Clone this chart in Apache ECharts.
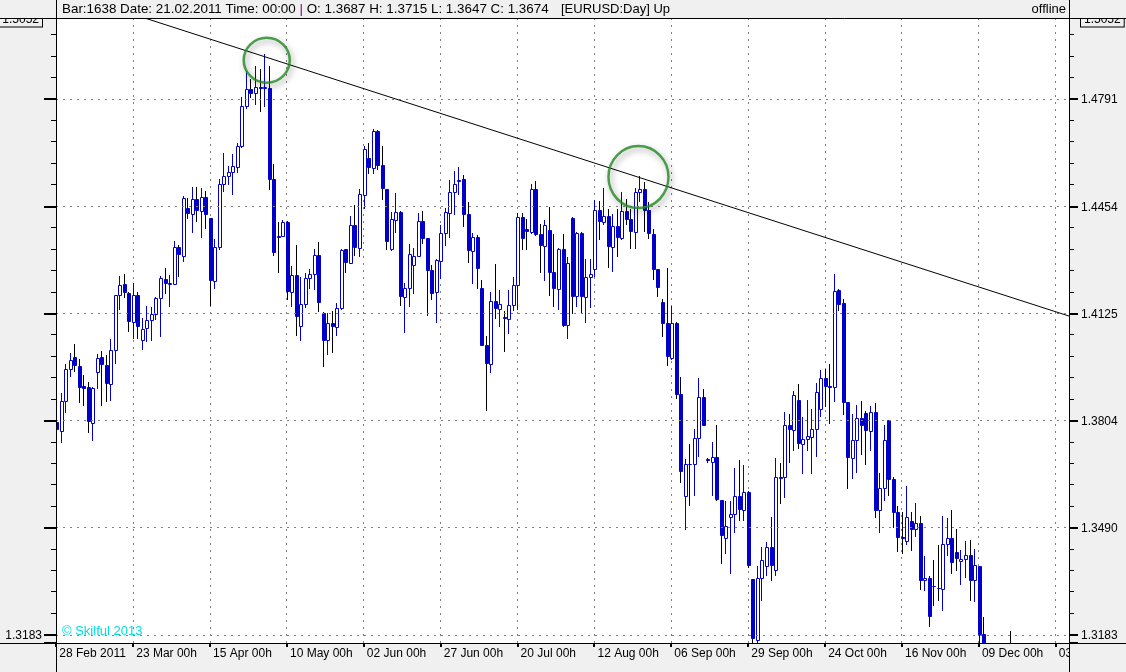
<!DOCTYPE html>
<html><head><meta charset="utf-8">
<script src="https://cdn.jsdelivr.net/npm/echarts@6/dist/echarts.min.js"></script>
<style>html,body{margin:0;padding:0;background:#f0f0f0;}#chart{width:1126px;height:672px;}</style>
</head><body><div id="chart"></div>
<script>
// ---- data (EURUSD daily) ----
const barCount = 225;               // bar slots shown on the time axis (weekdays from 28 Feb 2011)
const xTickLabels = ['28 Feb 2011','23 Mar 00h','15 Apr 00h','10 May 00h','02 Jun 00h','27 Jun 00h','20 Jul 00h','12 Aug 00h','06 Sep 00h','29 Sep 00h','24 Oct 00h','16 Nov 00h','09 Dec 00h','03 Jan 00h'];
const yTickLabels = ['1.3183','1.3490','1.3804','1.4125','1.4454','1.4791'];
const yTopLabel = '1.5052';
const yMin = 1.3160, yMax = 1.5052;

const open = [1.3800,1.3773,1.3863,1.3959,1.3995,1.3968,1.3906,1.3905,1.3796,1.3949,1.3995,1.3971,1.3914,1.4016,1.4181,1.4215,1.4189,1.4100,1.4181,1.4045,1.4081,1.4107,1.4124,1.4174,1.4232,1.4217,1.4217,1.4330,1.4301,1.4451,1.4432,1.4479,1.4440,1.4485,1.4418,1.4226,1.4330,1.4524,1.4550,1.4561,1.4579,1.4644,1.4771,1.4824,1.4810,1.4829,1.4826,1.4826,1.4539,1.4363,1.4363,1.4407,1.4192,1.4244,1.4088,1.4155,1.4235,1.4247,1.4306,1.4126,1.4045,1.4098,1.4086,1.4143,1.4322,1.4281,1.4396,1.4327,1.4489,1.4607,1.4576,1.4691,1.4583,1.4510,1.4324,1.4412,1.4437,1.4177,1.4204,1.4274,1.4301,1.4409,1.4356,1.4257,1.4191,1.4286,1.4371,1.4435,1.4501,1.4534,1.4539,1.4431,1.4318,1.4361,1.4204,1.4029,1.3974,1.4165,1.4139,1.4116,1.4110,1.4152,1.4213,1.4423,1.4386,1.4375,1.4510,1.4368,1.4332,1.4381,1.4252,1.4201,1.4322,1.4090,1.4420,1.4178,1.4373,1.4177,1.4238,1.4262,1.4442,1.4407,1.4425,1.4330,1.4394,1.4358,1.4440,1.4415,1.4376,1.4498,1.4510,1.4442,1.4368,1.4260,1.4160,1.4098,1.3992,1.4098,1.3882,1.3581,1.3677,1.3677,1.3753,1.3875,1.3690,1.3681,1.3696,1.3572,1.3460,1.3521,1.3530,1.3583,1.3542,1.3593,1.3342,1.3169,1.3345,1.3380,1.3434,1.3369,1.3638,1.3638,1.3790,1.3776,1.3867,1.3735,1.3750,1.3756,1.3780,1.3839,1.3930,1.3906,1.3905,1.4196,1.4157,1.3859,1.3694,1.3748,1.3812,1.3827,1.3773,1.3830,1.3542,1.3606,1.3807,1.3633,1.3535,1.3463,1.3453,1.3510,1.3486,1.3504,1.3338,1.3345,1.3323,1.3317,1.3314,1.3443,1.3460,1.3419,1.3395,1.3399,1.3410,1.3338,1.3380,1.3186,null,null,null,null,null,1.3100];
const high = [1.3815,1.3887,1.3972,1.4005,1.4034,1.3987,1.3939,1.3920,1.3903,1.4002,1.4012,1.3999,1.4050,1.4183,1.4239,1.4245,1.4192,1.4220,1.4192,1.4113,1.4148,1.4145,1.4176,1.4240,1.4266,1.4242,1.4347,1.4334,1.4487,1.4482,1.4516,1.4516,1.4513,1.4502,1.4420,1.4353,1.4541,1.4620,1.4581,1.4618,1.4652,1.4797,1.4882,1.4855,1.4898,1.4887,1.4936,1.4898,1.4586,1.4407,1.4411,1.4409,1.4271,1.4334,1.4237,1.4250,1.4262,1.4324,1.4344,1.4129,1.4128,1.4133,1.4158,1.4322,1.4324,1.4425,1.4458,1.4510,1.4644,1.4654,1.4696,1.4694,1.4644,1.4510,1.4437,1.4496,1.4440,1.4220,1.4337,1.4327,1.4435,1.4440,1.4356,1.4275,1.4291,1.4396,1.4451,1.4537,1.4565,1.4579,1.4552,1.4468,1.4371,1.4365,1.4227,1.4059,1.4191,1.4278,1.4196,1.4133,1.4196,1.4237,1.4435,1.4435,1.4415,1.4524,1.4533,1.4399,1.4411,1.4453,1.4368,1.4327,1.4368,1.4298,1.4423,1.4375,1.4375,1.4291,1.4291,1.4475,1.4471,1.4513,1.4448,1.4431,1.4448,1.4498,1.4479,1.4448,1.4513,1.4550,1.4531,1.4468,1.4384,1.4260,1.4171,1.4265,1.4148,1.4099,1.3935,1.3691,1.3736,1.3780,1.3932,1.3897,1.3695,1.3740,1.3792,1.3572,1.3567,1.3567,1.3664,1.3689,1.3674,1.3596,1.3343,1.3380,1.3434,1.3450,1.3522,1.3694,1.3680,1.3830,1.3825,1.3892,1.3912,1.3816,1.3867,1.3840,1.3917,1.3954,1.3957,1.3972,1.4245,1.4199,1.4169,1.3859,1.3825,1.3852,1.3864,1.3832,1.3847,1.3857,1.3650,1.3792,1.3807,1.3638,1.3553,1.3537,1.3612,1.3537,1.3563,1.3525,1.3409,1.3350,1.3398,1.3441,1.3525,1.3518,1.3542,1.3485,1.3426,1.3452,1.3455,1.3428,1.3380,1.3233,null,null,null,null,null,1.3195];
const low = [1.3770,1.3740,1.3829,1.3937,1.3952,1.3859,1.3852,1.3770,1.3748,1.3900,1.3852,1.3862,1.3865,1.3977,1.4138,1.4177,1.4073,1.4051,1.4051,1.4018,1.4042,1.4047,1.4108,1.4057,1.4187,1.4148,1.4215,1.4240,1.4286,1.4418,1.4375,1.4409,1.4360,1.4387,1.4153,1.4203,1.4322,1.4503,1.4524,1.4492,1.4561,1.4640,1.4765,1.4798,1.4776,1.4754,1.4771,1.4508,1.4306,1.4252,1.4362,1.4171,1.4148,1.4062,1.4045,1.4147,1.4204,1.4199,1.4133,1.3967,1.4002,1.4010,1.4062,1.4138,1.4252,1.4279,1.4303,1.4301,1.4451,1.4558,1.4560,1.4571,1.4479,1.4322,1.4320,1.4374,1.4153,1.4070,1.4148,1.4189,1.4300,1.4340,1.4122,1.4169,1.4100,1.4235,1.4334,1.4361,1.4431,1.4492,1.4394,1.4283,1.4220,1.4203,1.4029,1.3835,1.3949,1.4111,1.4088,1.4013,1.4068,1.4136,1.4138,1.4324,1.4324,1.4371,1.4365,1.4252,1.4227,1.4181,1.4148,1.4140,1.4088,1.4052,1.4126,1.4148,1.4129,1.4100,1.4146,1.4240,1.4353,1.4399,1.4268,1.4255,1.4301,1.4353,1.4399,1.4327,1.4327,1.4471,1.4380,1.4358,1.4230,1.4179,1.4057,1.3969,1.3987,1.3873,1.3622,1.3487,1.3557,1.3586,1.3699,1.3792,1.3683,1.3586,1.3572,1.3388,1.3417,1.3359,1.3479,1.3513,1.3513,1.3378,1.3164,1.3164,1.3283,1.3354,1.3340,1.3354,1.3562,1.3580,1.3681,1.3718,1.3723,1.3650,1.3718,1.3650,1.3700,1.3819,1.3847,1.3797,1.3862,1.4136,1.3825,1.3606,1.3635,1.3654,1.3707,1.3677,1.3718,1.3520,1.3479,1.3572,1.3586,1.3493,1.3424,1.3418,1.3444,1.3426,1.3466,1.3314,1.3312,1.3209,1.3268,1.3281,1.3254,1.3412,1.3359,1.3369,1.3329,1.3347,1.3283,1.3278,1.3140,1.2990,null,null,null,null,null,1.3050];
const close = [1.3778,1.3863,1.3959,1.3986,1.3971,1.3904,1.3901,1.3802,1.3902,1.3992,1.3974,1.3916,1.4016,1.4181,1.4213,1.4190,1.4102,1.4181,1.4088,1.4080,1.4107,1.4125,1.4174,1.4235,1.4219,1.4220,1.4330,1.4307,1.4482,1.4435,1.4479,1.4442,1.4485,1.4431,1.4228,1.4330,1.4524,1.4550,1.4561,1.4581,1.4644,1.4771,1.4824,1.4810,1.4829,1.4826,1.4829,1.4539,1.4313,1.4360,1.4407,1.4194,1.4244,1.4117,1.4155,1.4235,1.4247,1.4306,1.4160,1.4047,1.4098,1.4088,1.4143,1.4320,1.4283,1.4396,1.4330,1.4492,1.4633,1.4579,1.4690,1.4583,1.4513,1.4348,1.4415,1.4437,1.4179,1.4204,1.4308,1.4301,1.4409,1.4358,1.4258,1.4189,1.4288,1.4371,1.4437,1.4501,1.4526,1.4537,1.4431,1.4320,1.4361,1.4264,1.4030,1.3975,1.4165,1.4141,1.4155,1.4112,1.4152,1.4213,1.4423,1.4357,1.4378,1.4510,1.4369,1.4335,1.4396,1.4252,1.4203,1.4322,1.4091,1.4281,1.4179,1.4373,1.4179,1.4238,1.4245,1.4442,1.4409,1.4425,1.4332,1.4394,1.4361,1.4440,1.4415,1.4378,1.4498,1.4510,1.4442,1.4371,1.4262,1.4207,1.4098,1.3997,1.4098,1.3882,1.3655,1.3677,1.3675,1.3753,1.3875,1.3792,1.3688,1.3696,1.3574,1.3469,1.3496,1.3530,1.3583,1.3544,1.3593,1.3383,1.3174,1.3345,1.3398,1.3434,1.3383,1.3638,1.3636,1.3790,1.3780,1.3879,1.3738,1.3750,1.3758,1.3780,1.3890,1.3930,1.3907,1.3905,1.4193,1.4155,1.3859,1.3697,1.3748,1.3812,1.3790,1.3776,1.3830,1.3542,1.3606,1.3748,1.3633,1.3537,1.3462,1.3460,1.3521,1.3486,1.3504,1.3340,1.3345,1.3237,1.3322,1.3316,1.3444,1.3460,1.3390,1.3402,1.3399,1.3410,1.3340,1.3383,1.3186,1.3010,null,null,null,null,null,1.3080];

// trend line drawn on the chart: two points [bar position, price]
const trendLine = [[19.6, 1.5052], [224, 1.4118]];
// highlighted highs: [bar position, price]
const marks = [[46.6, 1.4916], [128.8, 1.4546]];

// ---- build ----
const categories = [];
(function(){ const d = new Date(Date.UTC(2011,1,28)); while (categories.length < barCount) { const w = d.getUTCDay(); if (w !== 0 && w !== 6) categories.push(d.toISOString().slice(0,10)); d.setUTCDate(d.getUTCDate()+1); } })();

const candles = [];
open.forEach((o, i) => { if (o != null) candles.push([i, o, close[i], low[i], high[i]]); });

const BLUE = '#0000c8';
const FONT = 'Liberation Sans';
const LOG_BASE = Math.pow(Number(yTickLabels[0]), 1/12);

function yLabel(v, withBox) {
  if (Math.abs(v - yMax) < 1e-7) return withBox ? '{box|' + yTopLabel + '}' : '';
  let best = null, bd = 1;
  yTickLabels.forEach(l => { const d = Math.abs(Number(l) - v); if (d < bd) { bd = d; best = l; } });
  return bd < 0.0006 ? best : '';
}
const dotted = { color: '#808080', width: 1, type: [2, 5] };
const boxStyle = { borderColor: '#000', borderWidth: 1, padding: [2, 3, 1, 3], fontSize: 12, fontFamily: FONT, color: '#000', backgroundColor: '#f0f0f0' };

const chart = echarts.init(document.getElementById('chart'), null, { renderer: 'canvas' });
chart.setOption({
  animation: false,
  backgroundColor: '#f0f0f0',
  grid: { left: 56, right: 57, top: 18, bottom: 29, show: true, backgroundColor: '#ffffff', borderWidth: 0, containLabel: false, outerBoundsMode: 'none' },
  xAxis: [{
    type: 'category', data: categories, boundaryGap: false, position: 'bottom', z: 1,
    axisLine: { onZero: false, lineStyle: { color: '#000', width: 1 } },
    axisTick: { interval: 16, length: 4, lineStyle: { color: '#000', width: 2 } },
    axisLabel: { interval: 16, align: 'left', margin: 5, color: '#000', fontSize: 12, fontFamily: FONT,
      formatter: (v, idx) => ' ' + (xTickLabels[Math.round(idx / 17)] || '') },
    splitLine: { show: true, interval: 16, lineStyle: dotted }
  }, {
    type: 'value', min: 0, max: barCount - 1, show: false, axisLine: { onZero: false }
  }],
  yAxis: [{
    type: 'log', logBase: LOG_BASE, min: yMin, max: yMax, position: 'right', z: 3,
    axisLine: { show: true, onZero: false, lineStyle: { color: '#000', width: 1 } },
    axisTick: { show: true, inside: false, length: 9, lineStyle: { color: '#000', width: 2 } },
    minorTick: { show: true, splitNumber: 5, length: 5, lineStyle: { color: '#000', width: 1 } },
    axisLabel: { margin: 12, padding: [2, 0, 0, 0], color: '#000', fontSize: 12, fontFamily: FONT, showMinLabel: false, showMaxLabel: true,
      formatter: v => yLabel(v, true), rich: { box: boxStyle } },
    splitLine: { show: true, lineStyle: dotted }
  }, {
    type: 'log', logBase: LOG_BASE, min: yMin, max: yMax, position: 'left', z: 3,
    axisLine: { show: true, onZero: false, lineStyle: { color: '#000', width: 1 } },
    axisTick: { show: true, inside: false, length: 12, lineStyle: { color: '#000', width: 2 } },
    minorTick: { show: true, splitNumber: 5, length: 5, lineStyle: { color: '#000', width: 1 } },
    axisLabel: { margin: 14, padding: [2, 0, 0, 0], color: '#000', fontSize: 12, fontFamily: FONT, showMinLabel: false, showMaxLabel: true,
      formatter: v => { const s = yLabel(v, true); return (s === yTickLabels[0] || s.indexOf('{box') === 0) ? s : ''; },
      rich: { box: boxStyle } },
    splitLine: { show: false }
  }],
  series: [{
    type: 'custom', name: 'EURUSD', xAxisIndex: 0, yAxisIndex: 0, clip: true,
    data: candles, encode: { x: 0, y: [1, 2, 3, 4] },
    renderItem: (params, api) => {
      const i = api.value(0), o = api.value(1), c = api.value(2), l = api.value(3), h = api.value(4);
      const po = api.coord([i, o]), pc = api.coord([i, c]), pl = api.coord([i, l]), ph = api.coord([i, h]);
      const x = Math.round(po[0]) + 0.5;
      const bull = c > o;
      const top = Math.round(Math.min(po[1], pc[1])) + 0.5;
      const bot = Math.round(Math.max(po[1], pc[1])) + 0.5;
      return { type: 'group', children: [
        { type: 'line', shape: { x1: x, y1: Math.round(ph[1]), x2: x, y2: Math.round(pl[1]) + 1 }, style: { stroke: bull ? BLUE : '#000', lineWidth: 1 } },
        { type: 'rect', shape: { x: x - 1, y: top, width: 3, height: bot - top }, style: { fill: bull ? '#ffffff' : BLUE, stroke: BLUE, lineWidth: 1 } }
      ] };
    }
  }, {
    type: 'line', name: 'trend', xAxisIndex: 1, yAxisIndex: 0, data: trendLine, symbol: 'none', silent: true, clip: true,
    lineStyle: { color: '#000', width: 1 }, z: 5
  }, {
    type: 'scatter', name: 'marks', xAxisIndex: 1, yAxisIndex: 0, silent: true, z: 6,
    data: [{ value: marks[0], symbolSize: [46, 45] }, { value: marks[1], symbolSize: [60, 62] }],
    symbol: 'circle',
    itemStyle: { color: 'rgba(0,0,0,0)', borderColor: '#1f8a1f', borderWidth: 2.5, shadowBlur: 6, shadowColor: 'rgba(0,0,0,0.45)', shadowOffsetX: 2, shadowOffsetY: 3 }
  }],
  graphic: [
    { type: 'rect', z: 100, shape: { x: 1069.5, y: 644, width: 60, height: 30 }, style: { fill: '#f0f0f0' } },
    { type: 'rect', z: 100, shape: { x: 0, y: 0, width: 1126, height: 18 }, style: { fill: '#f0f0f0' } },
    { type: 'line', z: 101, shape: { x1: 0, y1: 18.5, x2: 1126, y2: 18.5 }, style: { stroke: '#000', lineWidth: 1 } },
    { type: 'line', z: 101, shape: { x1: 0, y1: 643.5, x2: 1126, y2: 643.5 }, style: { stroke: '#000', lineWidth: 1 } },
    { type: 'line', z: 101, shape: { x1: 56.5, y1: 0, x2: 56.5, y2: 672 }, style: { stroke: '#000', lineWidth: 1 } },
    { type: 'line', z: 101, shape: { x1: 1069.5, y1: 0, x2: 1069.5, y2: 672 }, style: { stroke: '#000', lineWidth: 1 } },
    { type: 'text', z: 102, x: 62, y: 9, style: { text: 'Bar:1638 Date: 21.02.2011 Time: 00:00 {p||} O: 1.3687 H: 1.3715 L: 1.3647 C: 1.3674', verticalAlign: 'middle', fill: '#000', font: '13.4px "Liberation Sans"', rich: { p: { fill: '#800080', font: '13.4px "Liberation Sans"' } } } },
    { type: 'text', z: 102, x: 561, y: 9, style: { text: '[EURUSD:Day] Up', verticalAlign: 'middle', fill: '#000', font: '13px "Liberation Sans"' } },
    { type: 'text', z: 102, x: 1066, y: 9, style: { text: 'offline', align: 'right', verticalAlign: 'middle', fill: '#000', font: '13px "Liberation Sans"' } },
    { type: 'text', z: 102, x: 62, y: 631, style: { text: '\u00a9 Skilful 2013', verticalAlign: 'middle', fill: '#00dede', font: '13px "Liberation Sans"' } }
  ]
});
</script></body></html>
